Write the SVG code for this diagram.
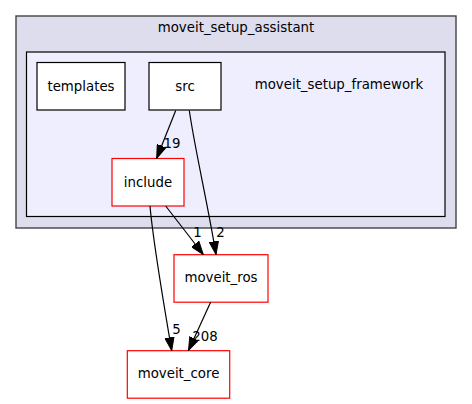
<svg xmlns="http://www.w3.org/2000/svg" width="472" height="404" viewBox="0 0 472 404">
<defs>
<style>
text{font-family:"DejaVu Sans","Liberation Sans",sans-serif;font-size:13.33px;fill:#000;text-anchor:middle}
.node rect{fill:#fff;stroke-width:1.2}
.dir rect{stroke:#000}
.ext rect{stroke:#ff0000}
.edge path{fill:none;stroke:#000;stroke-width:1.2;marker-end:url(#arrow)}
</style>
<marker id="arrow" markerUnits="userSpaceOnUse" markerWidth="14" markerHeight="10" viewBox="0 0 14 10" refX="13.3" refY="5" orient="auto">
<path d="M0,0.33 L13.3,5 L0,9.67 Z" fill="#000" stroke="#000" stroke-width="1"/>
</marker>
</defs>
<rect width="472" height="404" fill="#fff"/>
<g id="cluster_moveit_setup_assistant">
<rect x="16" y="16" width="440" height="212" fill="#ddddee" stroke="#444" stroke-width="1.4"/>
<text x="236" y="31.5">moveit_setup_assistant</text>
</g>
<g id="cluster_moveit_setup_framework">
<rect x="26.5" y="52" width="418.5" height="164.5" fill="#eeeeff" stroke="#000" stroke-width="1.2"/>
<text x="339" y="89">moveit_setup_framework</text>
</g>
<g id="node_templates" class="node dir">
<rect x="37" y="62.5" width="88" height="47.5"/>
<text x="81" y="90.5">templates</text>
</g>
<g id="node_src" class="node dir">
<rect x="149" y="62.5" width="72" height="47.5"/>
<text x="185" y="90.5">src</text>
</g>
<g id="node_include" class="node ext">
<rect x="112" y="158.5" width="72" height="47.5"/>
<text x="148" y="186.5">include</text>
</g>
<g id="node_moveit_ros" class="node ext">
<rect x="174" y="254.7" width="94" height="47.5"/>
<text x="221" y="281.7">moveit_ros</text>
</g>
<g id="node_moveit_core" class="node ext">
<rect x="127.3" y="350.7" width="102.4" height="47.5"/>
<text x="178.5" y="378">moveit_core</text>
</g>
<g id="connectors">
<g class="edge" id="edge_src_include">
<text x="172" y="148">19</text>
<path d="M175.7,110.5 L156.7,158.3"/>
</g>
<g class="edge" id="edge_src_moveit_ros">
<text x="220.5" y="237">2</text>
<path d="M189.3,110.5 C195,150 208,205 216,254.5"/>
</g>
<g class="edge" id="edge_include_moveit_ros">
<text x="197.5" y="237">1</text>
<path d="M165.7,206 L203.3,254.5"/>
</g>
<g class="edge" id="edge_include_moveit_core">
<text x="176.5" y="333.5">5</text>
<path d="M150,206 C153,240 163,300 171.7,350.5"/>
</g>
<g class="edge" id="edge_moveit_ros_moveit_core">
<text x="205" y="341">208</text>
<path d="M210.6,302.3 L188.5,350.5"/>
</g>
</g>
</svg>
